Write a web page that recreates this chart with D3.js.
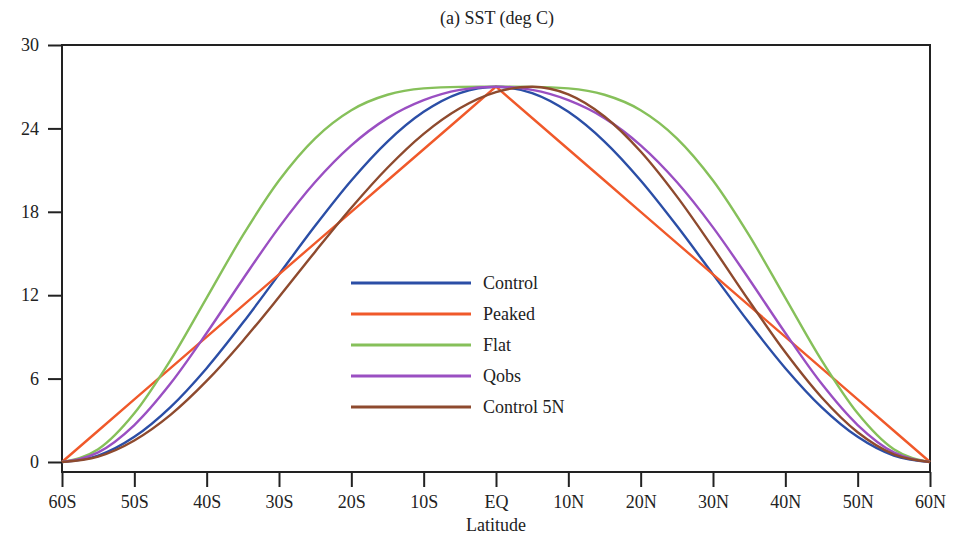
<!DOCTYPE html>
<html><head><meta charset="utf-8">
<script src="https://cdn.jsdelivr.net/npm/d3@7"></script>
<style>body{margin:0;background:#fff;} svg{display:block;} text{font-family:"Liberation Serif","Times New Roman",serif !important;fill:#222;}</style>
</head><body><svg id="c" width="955" height="540"></svg>
<script>
const latitudes = [-60,-55,-50,-45,-40,-35,-30,-25,-20,-15,-10,-5,0,5,10,15,20,25,30,35,40,45,50,55,60];
const control   = [0,0.46,1.81,3.95,6.75,10.01,13.5,16.99,20.25,23.05,25.19,26.54,27,26.54,25.19,23.05,20.25,16.99,13.5,10.01,6.75,3.95,1.81,0.46,0];
const peaked    = [0,2.25,4.5,6.75,9,11.25,13.5,15.75,18,20.25,22.5,24.75,27,24.75,22.5,20.25,18,15.75,13.5,11.25,9,6.75,4.5,2.25,0];
const flat      = [0,0.91,3.5,7.33,11.81,16.3,20.25,23.29,25.31,26.42,26.88,26.99,27,26.99,26.88,26.42,25.31,23.29,20.25,16.3,11.81,7.33,3.5,0.91,0];
const qobs      = [0,0.69,2.66,5.64,9.28,13.15,16.88,20.14,22.78,24.74,26.03,26.77,27,26.77,26.03,24.74,22.78,20.14,16.88,13.15,9.28,5.64,2.66,0.69,0];
const control5N = [0,0.39,1.55,3.39,5.83,8.71,11.87,15.13,18.29,21.17,23.61,25.45,26.61,27,26.45,24.86,22.34,19.11,15.42,11.58,7.89,4.66,2.14,0.55,0];
const seriesNames = ["Control","Peaked","Flat","Qobs","Control 5N"];
const seriesColors = ["#2b4ea6","#f0592a","#86c05a","#9a4fc2","#8e4a2e"];
const xTickValues = [-60,-50,-40,-30,-20,-10,0,10,20,30,40,50,60];
const xTickLabels = ["60S","50S","40S","30S","20S","10S","EQ","10N","20N","30N","40N","50N","60N"];
const yTickValues = [0,6,12,18,24,30];
const titleText = "(a) SST (deg C)";
const xLabelText = "Latitude";

const allSeries = [control, peaked, flat, qobs, control5N];
const svg = d3.select("#c");
const L = 62, R = 930, T = 45, B = 472;
const x = d3.scaleLinear().domain([-60,60]).range([L,R]);
const y = d3.scaleLinear().domain([-0.72,30]).range([B,T]);

// frame
svg.append("rect").attr("x",L).attr("y",T).attr("width",R-L).attr("height",B-T)
  .attr("fill","none").attr("stroke","#222").attr("stroke-width",2);

// axes
const yAxis = svg.append("g").attr("transform",`translate(${L},0)`)
  .call(d3.axisLeft(y).tickValues(yTickValues).tickSize(14).tickPadding(9));
yAxis.select(".domain").remove();
yAxis.selectAll("line").attr("stroke","#222").attr("stroke-width",2);
yAxis.selectAll("text").style("font-size","18px").attr("fill","#222");

const xAxis = svg.append("g").attr("transform",`translate(0,${B})`)
  .call(d3.axisBottom(x).tickValues(xTickValues).tickFormat((d,i)=>xTickLabels[i]).tickSize(15).tickPadding(8));
xAxis.select(".domain").remove();
xAxis.selectAll("line").attr("stroke","#222").attr("stroke-width",2);
xAxis.selectAll("text").style("font-size","18px").attr("fill","#222");

// lines
const smooth = d3.line().x((d,i)=>x(latitudes[i])).y(d=>y(d)).curve(d3.curveMonotoneX);
const straight = d3.line().x((d,i)=>x(latitudes[i])).y(d=>y(d)).curve(d3.curveLinear);
allSeries.forEach((s,k)=>{
  svg.append("path").datum(s).attr("fill","none")
    .attr("stroke",seriesColors[k]).attr("stroke-width",2.4)
    .attr("d", k===1 ? straight(s) : smooth(s));
});

// legend
const lg = svg.append("g");
seriesNames.forEach((n,k)=>{
  const yy = 283 + k*31;
  lg.append("rect").attr("x",340).attr("y",yy-14).attr("width",240).attr("height",28).attr("fill","#fff");
});
seriesNames.forEach((n,k)=>{
  const yy = 283 + k*31;
  lg.append("line").attr("x1",351).attr("x2",471).attr("y1",yy).attr("y2",yy)
    .attr("stroke",seriesColors[k]).attr("stroke-width",3);
  lg.append("text").attr("x",483).attr("y",yy+6).style("font-size","18px").text(n);
});

svg.append("text").attr("x",497).attr("y",24).attr("text-anchor","middle").style("font-size","18px").text(titleText);
svg.append("text").attr("x",496).attr("y",531).attr("text-anchor","middle").style("font-size","18px").text(xLabelText);
</script></body></html>
